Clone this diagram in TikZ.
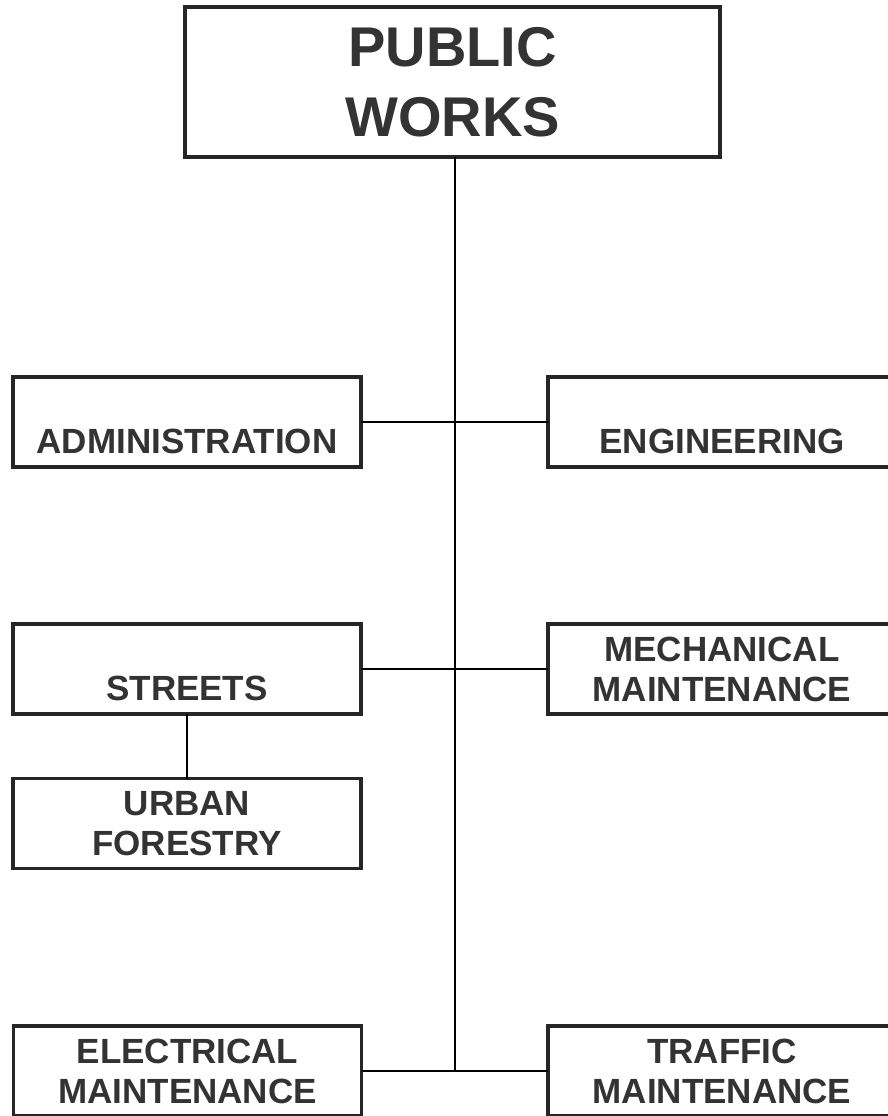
\documentclass[tikz,border=0pt]{standalone}
\usepackage{fontspec}
\setmainfont{Liberation Sans}
\begin{document}
\begin{tikzpicture}[x=1pt,y=1pt,
  unitbox/.style={rectangle, draw=black!85, line width=3.2pt, fill=white,
    inner sep=0pt, outer sep=0pt, minimum width=348pt, minimum height=90pt,
    align=center, text=black!80, font=\fontsize{35}{40}\selectfont\bfseries},
  headbox/.style={unitbox, minimum width=535pt, minimum height=150pt,
    font=\fontsize{56}{70}\selectfont\bfseries},
  link/.style={draw=black, line width=2pt}]
\clip (0,0) rectangle (888,-1116);
\fill[white] (0,0) rectangle (888,-1116);

% department boxes
\node[headbox] (pw) at (452.5,-82) {PUBLIC\\WORKS};
\node[unitbox] (admin)   at (187,-422)  {\phantom{X}\\ADMINISTRATION};
\node[unitbox] (eng)     at (722,-422)  {\phantom{X}\\ENGINEERING};
\node[unitbox] (streets) at (187,-669)  {\phantom{X}\\STREETS};
\node[unitbox] (mech)    at (722,-669)  {MECHANICAL\\MAINTENANCE};
\node[unitbox] (urban)   at (187,-823.5) {URBAN\\FORESTRY};
\node[unitbox] (elec)    at (187.5,-1071) {ELECTRICAL\\MAINTENANCE};
\node[unitbox] (traffic) at (722,-1071) {TRAFFIC\\MAINTENANCE};

% reporting lines
\coordinate (trunkend) at (455,-1072);
\draw[link] (pw.south -| trunkend) -- (trunkend);
\draw[link] (admin) -- (eng);
\draw[link] (streets) -- (mech);
\draw[link] (elec) -- (traffic);
\draw[link] (streets.south) -- (urban.north);
\end{tikzpicture}
\end{document}
